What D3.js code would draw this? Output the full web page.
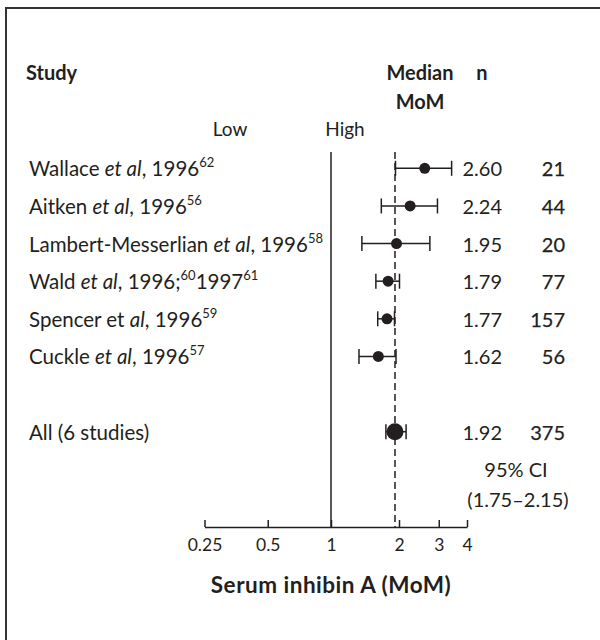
<!DOCTYPE html>
<html>
<head>
<meta charset="utf-8">
<script src="https://cdn.jsdelivr.net/npm/d3@7"></script>
<style>
  body { margin: 0; background: #fff; }
  svg { font-family: Lato, "Open Sans", sans-serif; fill: #231f20; }
</style>
</head>
<body>
<svg width="600" height="640"></svg>
<script>
  // study labels as text segments: [text, style] where style is "", "i" (italic) or "sup"
  const studies = [
    [["Wallace ",""],["et al",'i'],[", 1996",""],["62","sup"]],
    [["Aitken ",""],["et al",'i'],[", 1996",""],["56","sup"]],
    [["Lambert-Messerlian ",""],["et al",'i'],[", 1996",""],["58","sup"]],
    [["Wald ",""],["et al",'i'],[", 1996;",""],["60","sup"],["1997",""],["61","sup"]],
    [["Spencer et ",""],["al",'i'],[", 1996",""],["59","sup"]],
    [["Cuckle ",""],["et al",'i'],[", 1996",""],["57","sup"]],
    [["All (6 studies)",""]]
  ];
  const rowIndex = [0,1,2,3,4,5,7];
  const medians = [2.60, 2.24, 1.95, 1.79, 1.77, 1.62, 1.92];
  const medianLabels = ["2.60","2.24","1.95","1.79","1.77","1.62","1.92"];
  const ciLow = [1.93, 1.67, 1.37, 1.58, 1.61, 1.33, 1.75];
  const ciHigh = [3.42, 2.96, 2.74, 2.01, 1.91, 1.94, 2.15];
  const ns = [21, 44, 20, 77, 157, 56, 375];
  const tickVals = [0.25, 0.5, 1, 2, 3, 4];
  const tickLabels = ["0.25","0.5","1","2","3","4"];

  const svg = d3.select("svg");

  // frame (only top and left edges fall inside the picture)
  svg.append("rect")
    .attr("x",6).attr("y",8).attr("width",700).attr("height",700)
    .attr("fill","none").attr("stroke","#333").attr("stroke-width",2);

  const x = d3.scaleLog().domain([0.25, 1, 4]).range([204.5, 331, 467]);
  const y = d3.scaleLinear().domain([0, 7]).range([168.3, 431.7]);
  const axisY = 527;

  // headers
  svg.append("text").text("Study").attr("x",26).attr("y",80)
    .style("font-size","20px").style("font-weight","bold");
  svg.append("text").text("Median").attr("x",420).attr("y",80)
    .attr("text-anchor","middle").style("font-size","20px").style("font-weight","bold");
  svg.append("text").text("MoM").attr("x",420).attr("y",109)
    .attr("text-anchor","middle").style("font-size","20px").style("font-weight","bold");
  svg.append("text").text("n").attr("x",482).attr("y",80)
    .attr("text-anchor","middle").style("font-size","20px").style("font-weight","bold");
  svg.append("text").text("Low").attr("x",230).attr("y",136)
    .attr("text-anchor","middle").style("font-size","19px");
  svg.append("text").text("High").attr("x",345).attr("y",136)
    .attr("text-anchor","middle").style("font-size","19px");

  // reference lines
  svg.append("line")
    .attr("x1",x(1)).attr("x2",x(1)).attr("y1",152).attr("y2",axisY)
    .attr("stroke","#231f20").attr("stroke-width",1.5);
  svg.append("line")
    .attr("x1",x(medians[6])).attr("x2",x(medians[6])).attr("y1",152).attr("y2",axisY)
    .attr("stroke","#231f20").attr("stroke-width",1.5).attr("stroke-dasharray","7,4");

  // axis
  const xAxis = d3.axisBottom(x)
    .tickValues(tickVals)
    .tickFormat((d,i)=>tickLabels[i])
    .tickSizeInner(-7)
    .tickSizeOuter(0)
    .tickPadding(12);

  const gAxis = svg.append("g")
    .attr("transform",`translate(0,${axisY})`)
    .call(xAxis);
  gAxis.select(".domain").attr("stroke","#231f20").attr("stroke-width",1.5);
  gAxis.selectAll(".tick line").attr("stroke","#231f20").attr("stroke-width",1.5);
  gAxis.selectAll("text")
    .style("font-family","Lato, 'Open Sans', sans-serif")
    .style("font-size","17.5px").attr("fill","#231f20");

  svg.append("text").text("Serum inhibin A (MoM)")
    .attr("x",x(1)).attr("y",593).attr("text-anchor","middle")
    .style("font-size","22.5px").style("font-weight","bold").style("letter-spacing","0.5px");

  // rows
  const rows = svg.append("g").selectAll("g")
    .data(medians.map((m,i)=>({m, i, r: rowIndex[i]})))
    .enter().append("g");

  rows.append("line")
    .attr("x1",d=>x(ciLow[d.i])).attr("x2",d=>x(ciHigh[d.i]))
    .attr("y1",d=>y(d.r)).attr("y2",d=>y(d.r))
    .attr("stroke","#231f20").attr("stroke-width",1.5);
  [ciLow, ciHigh].forEach(arr=>{
    rows.append("line")
      .attr("x1",d=>x(arr[d.i])).attr("x2",d=>x(arr[d.i]))
      .attr("y1",d=>y(d.r)-7.5).attr("y2",d=>y(d.r)+7.5)
      .attr("stroke","#231f20").attr("stroke-width",1.5);
  });
  rows.append("circle")
    .attr("cx",d=>x(d.m)).attr("cy",d=>y(d.r))
    .attr("r",d=>d.r===7 ? 8.5 : 5.5)
    .attr("fill","#231f20");

  rows.append("text")
    .attr("x",502).attr("y",d=>y(d.r)+8)
    .attr("text-anchor","end").style("font-size","20px")
    .text(d=>medianLabels[d.i]);
  rows.append("text")
    .attr("x",565).attr("y",d=>y(d.r)+8)
    .attr("text-anchor","end").style("font-size","20px")
    .attr("stroke","#231f20").attr("stroke-width",0.25)
    .text(d=>ns[d.i]);

  const labels = rows.append("text")
    .attr("x",29).attr("y",d=>y(d.r)+8)
    .style("font-size","20.5px");
  labels.each(function(d){
    const t = d3.select(this);
    studies[d.i].forEach(([s, st])=>{
      const sp = t.append("tspan").text(s);
      if (st==="i") sp.style("font-style","italic");
      if (st==="sup") sp.style("font-size","13px").attr("baseline-shift","70%");
    });
  });

  svg.append("text").text("95% CI").attr("x",516).attr("y",477)
    .attr("text-anchor","middle").style("font-size","20px");
  svg.append("text").text("(1.75–2.15)").attr("x",518).attr("y",507)
    .attr("text-anchor","middle").style("font-size","20px");
</script>
</body>
</html>
